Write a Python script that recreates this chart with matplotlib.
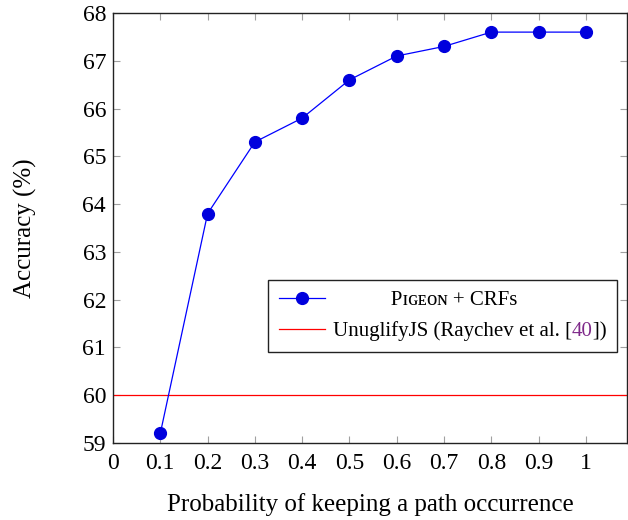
import matplotlib
matplotlib.use("Agg")
import matplotlib.pyplot as plt
from matplotlib.text import Text

x = [0.1, 0.2, 0.3, 0.4, 0.5, 0.6, 0.7, 0.8, 0.9, 1.0]
acc = [59.2, 63.8, 65.3, 65.8, 66.6, 67.1, 67.3, 67.6, 67.6, 67.6]
baseline = 60.0
xticks = [0, 0.1, 0.2, 0.3, 0.4, 0.5, 0.6, 0.7, 0.8, 0.9, 1]
xticklabels = ["0", "0.1", "0.2", "0.3", "0.4", "0.5", "0.6", "0.7", "0.8", "0.9", "1"]
yticks = [59, 60, 61, 62, 63, 64, 65, 66, 67, 68]

FAM = ['Liberation Serif', 'DejaVu Serif']
plt.rcParams['font.family'] = FAM

fig = plt.figure(figsize=(6.28, 5.2), dpi=100)
ax = fig.add_axes([113/628, 77/520, (627-113)/628, (443-13)/520])

ax.plot(x, acc, color='#0000ff', lw=0.9, marker='o', markersize=8.5,
        markerfacecolor='#0000dd', markeredgecolor='#0000dd',
        label="           P\u026a\u0262\u1d07\u1d0f\u0274 + CRFs", zorder=3)
ax.axhline(baseline, color='#ff0000', lw=0.9, label="UnuglifyJS (Raychev et al. [40])", zorder=2)

ax.set_xlim(0, 1.087)
ax.set_ylim(59, 68)
ax.set_xticks(xticks)
ax.set_xticklabels(xticklabels)
ax.set_yticks(yticks)
ax.tick_params(direction='in', length=5, width=0.8, color='#a0a0a0',
               top=True, right=True, labelsize=17)
ax.tick_params(axis='x', pad=7)
ax.tick_params(axis='y', pad=5)
for s in ax.spines.values():
    s.set_linewidth(1.0)
    s.set_color('#222222')

ax.set_xlabel("Probability of keeping a path occurrence", fontsize=18, labelpad=14)
ax.set_ylabel("Accuracy (%)", fontsize=18, labelpad=33)

LFS = 15
leg = ax.legend(loc='upper right', bbox_to_anchor=(617/628, 1-280/520),
                bbox_transform=fig.transFigure, borderaxespad=0,
                fancybox=False, edgecolor='#222222', fontsize=LFS,
                handlelength=2.2, framealpha=1, borderpad=0.5,
                labelspacing=0.55, handletextpad=0.4)
leg.get_frame().set_linewidth(1.0)

# overlay purple citation number
fig.canvas.draw()
renderer = fig.canvas.get_renderer()
t = leg.get_texts()[1]
bb = t.get_window_extent(renderer)
prefix = Text(0, 0, "UnuglifyJS (Raychev et al. [", fontsize=LFS, fontfamily=FAM)
prefix.set_figure(fig)
pw = prefix.get_window_extent(renderer).width
fig.text((bb.x0 + pw) / fig.bbox.width, bb.y0 / fig.bbox.height, "40",
         fontsize=LFS, color='#7f2a8a', ha='left', va='bottom',
         transform=fig.transFigure, zorder=10,
         bbox=dict(facecolor='white', edgecolor='none', pad=0))

fig.savefig("out.png", dpi=100)
